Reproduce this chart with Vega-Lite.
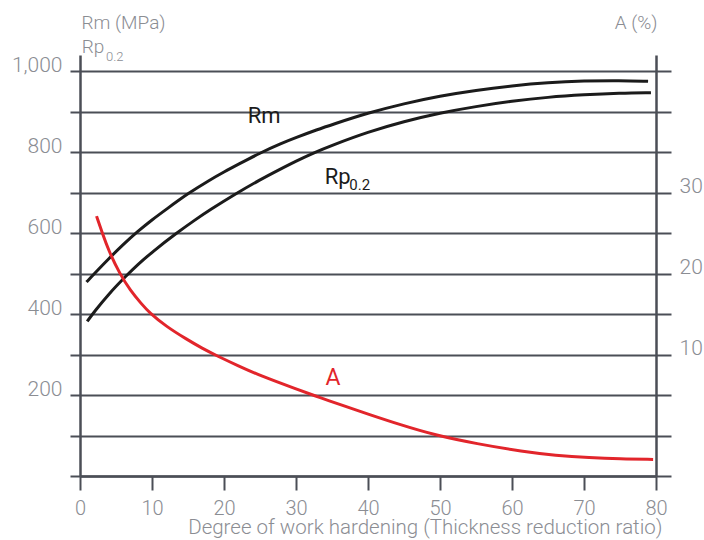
{
  "$schema": "https://vega.github.io/schema/vega-lite/v6.json",
  "width": 576,
  "height": 421,
  "autosize": "none",
  "padding": {"left": 80, "top": 55, "right": 48, "bottom": 64},
  "background": "white",
  "config": {
    "view": {"stroke": null},
    "font": "Roboto",
    "axis": {
      "domainColor": "#4b4e56", "domainWidth": 2.5,
      "tickColor": "#4b4e56", "tickWidth": 2,
      "gridColor": "#4b4e56", "gridWidth": 2, "gridOpacity": 1,
      "labelColor": "#8b8d93", "labelFont": "Roboto", "labelFontWeight": 300, "labelFontSize": 21,
      "titleColor": "#8b8d93", "titleFont": "Roboto", "titleFontWeight": 300, "titleFontSize": 19,
      "labelOverlap": false, "labelFlush": false
    }
  },
  "datasets": {
    "curves": [
      {"series": "Rm", "degree": 0.9, "mpa": 479}, {"series": "Rm", "degree": 2, "mpa": 500}, {"series": "Rm", "degree": 4, "mpa": 537},
      {"series": "Rm", "degree": 6, "mpa": 572}, {"series": "Rm", "degree": 8, "mpa": 604}, {"series": "Rm", "degree": 10, "mpa": 633},
      {"series": "Rm", "degree": 12, "mpa": 659}, {"series": "Rm", "degree": 15, "mpa": 698}, {"series": "Rm", "degree": 18, "mpa": 731},
      {"series": "Rm", "degree": 20, "mpa": 751}, {"series": "Rm", "degree": 22, "mpa": 770}, {"series": "Rm", "degree": 25, "mpa": 798},
      {"series": "Rm", "degree": 28, "mpa": 822}, {"series": "Rm", "degree": 30, "mpa": 836}, {"series": "Rm", "degree": 33, "mpa": 856},
      {"series": "Rm", "degree": 35, "mpa": 868}, {"series": "Rm", "degree": 40, "mpa": 897}, {"series": "Rm", "degree": 45, "mpa": 920},
      {"series": "Rm", "degree": 50, "mpa": 939}, {"series": "Rm", "degree": 55, "mpa": 953}, {"series": "Rm", "degree": 60, "mpa": 964},
      {"series": "Rm", "degree": 65, "mpa": 972}, {"series": "Rm", "degree": 70, "mpa": 976}, {"series": "Rm", "degree": 75, "mpa": 977},
      {"series": "Rm", "degree": 78.9, "mpa": 975},
      {"series": "Rp", "degree": 1, "mpa": 382}, {"series": "Rp", "degree": 2, "mpa": 406}, {"series": "Rp", "degree": 4, "mpa": 450},
      {"series": "Rp", "degree": 6.5, "mpa": 496}, {"series": "Rp", "degree": 8, "mpa": 522}, {"series": "Rp", "degree": 10, "mpa": 553},
      {"series": "Rp", "degree": 13.4, "mpa": 600}, {"series": "Rp", "degree": 16, "mpa": 633}, {"series": "Rp", "degree": 18, "mpa": 657},
      {"series": "Rp", "degree": 21.5, "mpa": 696}, {"series": "Rp", "degree": 25, "mpa": 732}, {"series": "Rp", "degree": 27.8, "mpa": 758},
      {"series": "Rp", "degree": 30, "mpa": 778}, {"series": "Rp", "degree": 32.4, "mpa": 798}, {"series": "Rp", "degree": 35, "mpa": 817},
      {"series": "Rp", "degree": 40, "mpa": 850}, {"series": "Rp", "degree": 45, "mpa": 876}, {"series": "Rp", "degree": 50, "mpa": 897},
      {"series": "Rp", "degree": 55, "mpa": 913}, {"series": "Rp", "degree": 60, "mpa": 926}, {"series": "Rp", "degree": 65, "mpa": 936},
      {"series": "Rp", "degree": 70, "mpa": 942}, {"series": "Rp", "degree": 75, "mpa": 946}, {"series": "Rp", "degree": 79.3, "mpa": 947}
    ],
    "elong": [
      {"degree": 2.3, "A": 27.1}, {"degree": 3.1, "A": 25.0}, {"degree": 4, "A": 22.8}, {"degree": 5.5, "A": 20.0},
      {"degree": 7, "A": 17.9}, {"degree": 8.5, "A": 16.3}, {"degree": 9.6, "A": 15.2}, {"degree": 12, "A": 13.45},
      {"degree": 14.8, "A": 11.9}, {"degree": 17, "A": 10.75}, {"degree": 19, "A": 9.85}, {"degree": 22, "A": 8.6},
      {"degree": 25, "A": 7.4}, {"degree": 30, "A": 5.75}, {"degree": 33.3, "A": 4.7}, {"degree": 37, "A": 3.55},
      {"degree": 40, "A": 2.65}, {"degree": 44.4, "A": 1.35}, {"degree": 49.5, "A": 0.0}, {"degree": 55, "A": -1.0},
      {"degree": 61.6, "A": -2.0}, {"degree": 66, "A": -2.45}, {"degree": 70.8, "A": -2.75}, {"degree": 75, "A": -2.9},
      {"degree": 79.6, "A": -2.95}
    ],
    "labels": [
      {"kind": "curve", "text": "Rm", "degree": 23.3, "mpa": 871},
      {"kind": "curve", "text": "Rp", "degree": 34.0, "mpa": 722},
      {"kind": "curvesub", "text": "0.2", "degree": 37.4, "mpa": 706},
      {"kind": "red", "text": "A", "degree": 34.1, "mpa": 224},
      {"kind": "head", "text": "Rp", "degree": 0.24, "mpa": 1044},
      {"kind": "headsub", "text": "0.2", "degree": 3.6, "mpa": 1026}
    ]
  },
  "layer": [
    {
      "layer": [
        {
          "data": {"name": "curves"},
          "mark": {"type": "line", "color": "#1b1b1b", "strokeWidth": 3, "interpolate": "basis"},
          "encoding": {
            "x": {
              "field": "degree", "type": "quantitative",
              "scale": {"domain": [0, 80], "nice": false},
              "axis": {
                "values": [0, 10, 20, 30, 40, 50, 60, 70, 80],
                "grid": false, "tickSize": 14, "labelFontSize": 20,
                "labelBaseline": "alphabetic", "labelPadding": 24,
                "title": "Degree of work hardening (Thickness reduction ratio)",
                "titleFontSize": 20.5,
                "titleX": 582, "titleY": 57, "titleAlign": "right", "titleBaseline": "alphabetic"
              }
            },
            "y": {
              "field": "mpa", "type": "quantitative",
              "scale": {"domain": [0, 1040], "nice": false, "zero": false},
              "axis": {
                "values": [0, 100, 200, 300, 400, 500, 600, 700, 800, 900, 1000],
                "grid": true, "tickSize": 10, "labelPadding": 8, "labelOffset": -6,
                "labelExpr": "datum.value > 0 && datum.value % 200 == 0 ? format(datum.value, ',') : ''",
                "title": "Rm (MPa)", "titleAngle": 0, "titleX": 1, "titleY": -27,
                "titleAlign": "left", "titleBaseline": "alphabetic"
              }
            },
            "detail": {"field": "series", "type": "nominal"}
          }
        },
        {
          "data": {"name": "labels"},
          "transform": [{"filter": "datum.kind == 'curve'"}],
          "mark": {"type": "text", "color": "#1b1b1b", "fontSize": 22, "font": "Roboto", "align": "left", "baseline": "alphabetic"},
          "encoding": {
            "x": {"field": "degree", "type": "quantitative"},
            "y": {"field": "mpa", "type": "quantitative", "scale": {"domain": [0, 1040], "nice": false, "zero": false}},
            "text": {"field": "text"}
          }
        },
        {
          "data": {"name": "labels"},
          "transform": [{"filter": "datum.kind == 'curvesub'"}],
          "mark": {"type": "text", "color": "#1b1b1b", "fontSize": 15, "font": "Roboto", "align": "left", "baseline": "alphabetic"},
          "encoding": {
            "x": {"field": "degree", "type": "quantitative"},
            "y": {"field": "mpa", "type": "quantitative", "scale": {"domain": [0, 1040], "nice": false, "zero": false}},
            "text": {"field": "text"}
          }
        },
        {
          "data": {"name": "labels"},
          "transform": [{"filter": "datum.kind == 'red'"}],
          "mark": {"type": "text", "color": "#e2252b", "fontSize": 23, "font": "Roboto", "align": "left", "baseline": "alphabetic"},
          "encoding": {
            "x": {"field": "degree", "type": "quantitative"},
            "y": {"field": "mpa", "type": "quantitative", "scale": {"domain": [0, 1040], "nice": false, "zero": false}},
            "text": {"field": "text"}
          }
        },
        {
          "data": {"name": "labels"},
          "transform": [{"filter": "datum.kind == 'head'"}],
          "mark": {"type": "text", "color": "#8b8d93", "fontSize": 19, "font": "Roboto", "fontWeight": 300, "align": "left", "baseline": "alphabetic"},
          "encoding": {
            "x": {"field": "degree", "type": "quantitative"},
            "y": {"field": "mpa", "type": "quantitative", "scale": {"domain": [0, 1040], "nice": false, "zero": false}},
            "text": {"field": "text"}
          }
        },
        {
          "data": {"name": "labels"},
          "transform": [{"filter": "datum.kind == 'headsub'"}],
          "mark": {"type": "text", "color": "#8b8d93", "fontSize": 13, "font": "Roboto", "fontWeight": 300, "align": "left", "baseline": "alphabetic"},
          "encoding": {
            "x": {"field": "degree", "type": "quantitative"},
            "y": {"field": "mpa", "type": "quantitative", "scale": {"domain": [0, 1040], "nice": false, "zero": false}},
            "text": {"field": "text"}
          }
        }
      ]
    },
    {
      "data": {"name": "elong"},
      "mark": {"type": "line", "color": "#e2252b", "strokeWidth": 3, "interpolate": "basis"},
      "encoding": {
        "x": {"field": "degree", "type": "quantitative"},
        "y": {
          "field": "A", "type": "quantitative",
          "scale": {"domain": [-5, 47], "nice": false, "zero": false},
          "axis": {
            "orient": "right",
            "values": [-5, 0, 5, 10, 15, 20, 25, 30, 35, 40, 45],
            "grid": false, "tickSize": 15, "labelPadding": 8, "labelOffset": -6,
            "labelExpr": "datum.value == 10 || datum.value == 20 || datum.value == 30 ? datum.label : ''",
            "title": "A (%)", "titleAngle": 0, "titleX": 1, "titleY": -27,
            "titleAlign": "right", "titleBaseline": "alphabetic"
          }
        }
      }
    }
  ],
  "resolve": {"scale": {"y": "independent"}}
}
